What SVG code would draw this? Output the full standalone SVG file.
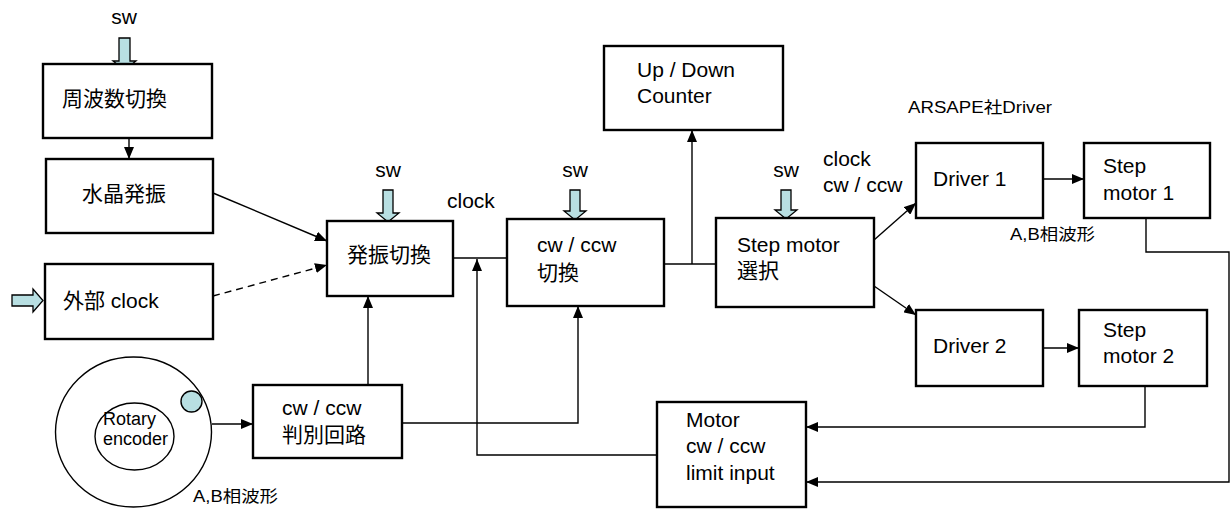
<svg xmlns="http://www.w3.org/2000/svg" width="1232" height="509" viewBox="0 0 1232 509">
<style>
.box{fill:#fff;stroke:#000;stroke-width:2.4}
.t{font-family:"Liberation Sans","Noto Sans CJK JP",sans-serif;font-size:21px;fill:#000}
.s{font-family:"Liberation Sans","Noto Sans CJK JP",sans-serif;font-size:16px;fill:#000}
.c{fill:none;stroke:#000;stroke-width:1.4}
.blk{fill:#b8dfe2;stroke:#000;stroke-width:1.3}
</style>
<defs>
<marker id="ah" markerUnits="userSpaceOnUse" markerWidth="12" markerHeight="10" viewBox="0 0 12 10" refX="12" refY="5" orient="auto">
<path d="M0,0 L12,5 L0,10 Z" fill="#000"/>
</marker>
</defs>
<rect width="1232" height="509" fill="#fff"/>

<g id="connectors">
<path class="c" d="M129,138 V159" marker-end="url(#ah)"/>
<path class="c" d="M213,193 L327,241" marker-end="url(#ah)"/>
<path class="c" d="M213,296 L327,265" stroke-dasharray="7,5" marker-end="url(#ah)"/>
<path class="c" d="M212,424 H253" marker-end="url(#ah)"/>
<path class="c" d="M368,385 V296" marker-end="url(#ah)"/>
<path class="c" d="M402,423 H578 V306" marker-end="url(#ah)"/>
<path class="c" d="M453,258 H507"/>
<path class="c" d="M657,455 H477 V259" marker-end="url(#ah)"/>
<path class="c" d="M664,264 H716"/>
<path class="c" d="M692,264 V130" marker-end="url(#ah)"/>
<path class="c" d="M874,240 L916,203" marker-end="url(#ah)"/>
<path class="c" d="M874,286 L916,315" marker-end="url(#ah)"/>
<path class="c" d="M1043,179 H1084" marker-end="url(#ah)"/>
<path class="c" d="M1043,348 H1079" marker-end="url(#ah)"/>
<path class="c" d="M1146,218 V252 H1229 V482 H806" marker-end="url(#ah)"/>
<path class="c" d="M1145,386 V427 H806" marker-end="url(#ah)"/>
</g>

<g id="sw-inputs">
<text class="t" x="124" y="24" text-anchor="middle">sw</text>
<path class="blk" d="M119,38 H130 V61 H136 L124.5,70 L113,61 H119 Z"/>
<text class="t" x="388" y="177" text-anchor="middle">sw</text>
<path class="blk" d="M383,190 H393 V213 H399 L388,222 L377,213 H383 Z"/>
<text class="t" x="575" y="177" text-anchor="middle">sw</text>
<path class="blk" d="M570,190 H580 V211 H586 L575,220 L564,211 H570 Z"/>
<text class="t" x="786" y="177" text-anchor="middle">sw</text>
<path class="blk" d="M781,190 H791 V210 H797 L786,219 L775,210 H781 Z"/>
<path class="blk" d="M12,295 H33 V289 L43,300.5 L33,312 V306 H12 Z"/>
</g>

<g id="freq-switch">
<rect class="box" x="43" y="64" width="169" height="74"/>
<text class="t" x="62" y="106">周波数切換</text>
</g>
<g id="crystal">
<rect class="box" x="46" y="159" width="167" height="74"/>
<text class="t" x="82" y="201">水晶発振</text>
</g>
<g id="ext-clock">
<rect class="box" x="45" y="264" width="168" height="75"/>
<text class="t" x="63" y="308">外部 clock</text>
</g>
<g id="osc-switch">
<rect class="box" x="327" y="221" width="126" height="75"/>
<text class="t" x="347" y="262">発振切換</text>
</g>
<g id="encoder">
<ellipse cx="133.5" cy="432" rx="78" ry="75" fill="#fff" stroke="#000" stroke-width="1.4"/>
<ellipse cx="134.5" cy="436.5" rx="39.5" ry="33.5" fill="#fff" stroke="#000" stroke-width="1.4"/>
<circle cx="191.5" cy="401.5" r="10.5" fill="#b8dfe2" stroke="#000" stroke-width="1.4"/>
<text class="t" x="103" y="425" style="font-size:18px">Rotary</text>
<text class="t" x="103" y="445" style="font-size:18px">encoder</text>
<text class="s" x="193" y="502" textLength="85" lengthAdjust="spacingAndGlyphs">A,B相波形</text>
</g>
<g id="direction-detect">
<rect class="box" x="253" y="385" width="149" height="73"/>
<text class="t" x="282" y="415">cw / ccw</text>
<text class="t" x="282" y="442">判別回路</text>
</g>
<g id="clock-label">
<text class="t" x="447" y="208">clock</text>
</g>
<g id="cwccw-switch">
<rect class="box" x="507" y="219" width="157" height="87"/>
<text class="t" x="537" y="252">cw / ccw</text>
<text class="t" x="537" y="280">切換</text>
</g>
<g id="counter">
<rect class="box" x="604" y="46" width="179" height="84"/>
<text class="t" x="637" y="77">Up / Down</text>
<text class="t" x="637" y="103">Counter</text>
</g>
<g id="motor-select">
<rect class="box" x="716" y="218" width="158" height="89"/>
<text class="t" x="737" y="252">Step motor</text>
<text class="t" x="737" y="278">選択</text>
<text class="t" x="823" y="166">clock</text>
<text class="t" x="823" y="192">cw / ccw</text>
</g>
<g id="driver-label">
<text class="s" x="908" y="113" textLength="144" lengthAdjust="spacingAndGlyphs">ARSAPE社Driver</text>
</g>
<g id="driver1">
<rect class="box" x="916" y="143" width="127" height="75"/>
<text class="t" x="933" y="186">Driver 1</text>
</g>
<g id="stepmotor1">
<rect class="box" x="1084" y="143" width="126" height="75"/>
<text class="t" x="1103" y="173">Step</text>
<text class="t" x="1103" y="200">motor 1</text>
<text class="s" x="1010" y="240" textLength="85" lengthAdjust="spacingAndGlyphs">A,B相波形</text>
</g>
<g id="driver2">
<rect class="box" x="916" y="310" width="127" height="76"/>
<text class="t" x="933" y="353">Driver 2</text>
</g>
<g id="stepmotor2">
<rect class="box" x="1079" y="310" width="128" height="76"/>
<text class="t" x="1103" y="337">Step</text>
<text class="t" x="1103" y="363">motor 2</text>
</g>
<g id="limit-input">
<rect class="box" x="657" y="402" width="149" height="105"/>
<text class="t" x="686" y="427">Motor</text>
<text class="t" x="686" y="453">cw / ccw</text>
<text class="t" x="686" y="480">limit input</text>
</g>
</svg>
